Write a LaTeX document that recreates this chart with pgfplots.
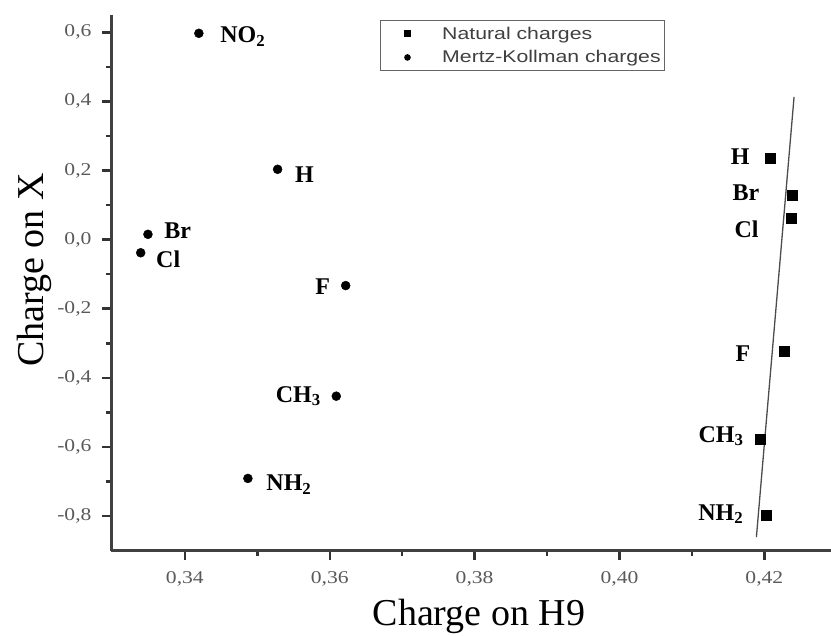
\documentclass[border=0pt]{standalone}
\usepackage{pgfplots}
\pgfplotsset{compat=1.18}
\usepackage{fontspec}
\setmainfont{Liberation Serif}
\newfontfamily\legfont[FakeStretch=1.25]{Liberation Sans}
\newfontfamily\tickfont[FakeStretch=1.2]{Liberation Serif}

% label font for the substituent names
\newcommand{\lbl}{\bfseries\fontsize{24}{28}\selectfont}

\begin{document}
\begin{tikzpicture}[x=1pt,y=1pt]
\useasboundingbox (0,0) rectangle (831,636);
\begin{axis}[
  at={(111pt,85pt)}, anchor=south west,
  scale only axis, width=720pt, height=536pt,
  xmin=0.3298, xmax=0.4292, ymin=-0.901, ymax=0.650,
  axis x line=bottom, axis y line=left,
  every outer x axis line/.append style={-, line width=3pt, black!75},
  every outer y axis line/.append style={-, line width=3pt, black!75},
  xtick={0.34,0.36,0.38,0.40,0.42},
  ytick={-0.8,-0.6,-0.4,-0.2,0,0.2,0.4,0.6},
  minor x tick num=1, minor y tick num=1,
  tick align=outside, major tick length=9pt, minor tick length=5pt,
  every tick/.append style={line width=2.5pt, black!80},
  /pgf/number format/assume math mode=true,
  ticklabel style={font=\tickfont\fontsize{18}{20}\selectfont, text=black!65},
  xticklabel style={yshift=-8pt, /pgf/number format/.cd, fixed, fixed zerofill, precision=2, use comma},
  yticklabel style={xshift=-7pt, /pgf/number format/.cd, fixed, fixed zerofill, precision=1, use comma},
  clip=false,
  legend style={at={(0.3736,0.9907)}, anchor=north west, draw=black!60, line width=1.5pt,
    font=\legfont\fontsize{17}{19}\selectfont, text=black!75,
    inner xsep=2pt, inner ysep=4pt, row sep=6pt},
  legend cell align=left,
  legend image code/.code={\path (0pt,0pt) (56pt,0pt); \draw[#1] plot coordinates {(24pt,0pt)};},
]
\addlegendimage{only marks, mark=square*, mark size=3pt, black}
\addlegendentry{Natural charges}
\addlegendimage{only marks, mark=*, mark size=2.5pt, black}
\addlegendentry{Mertz-Kollman charges}

% Natural charges
\addplot[only marks, mark=square*, mark size=5pt, black, forget plot] coordinates {
  (0.4208, 0.237) (0.4238, 0.129) (0.4237, 0.0625)
  (0.4227,-0.322) (0.4194,-0.577) (0.4202,-0.797)};
% linear fit through natural charges
\addplot[black!70, line width=1.3pt, forget plot] coordinates {
  (0.4189,-0.861) (0.4241,0.413)};
% Mertz-Kollman charges
\addplot[only marks, mark=*, mark size=4.5pt, black, forget plot] coordinates {
  (0.34193,0.597) (0.3528,0.2035) (0.3349,0.0153) (0.3339,-0.038)
  (0.3622,-0.133) (0.3609,-0.453) (0.3487,-0.691)};

% labels, Mertz-Kollman
\node[anchor=base west, xshift=18pt, yshift=-9pt] at (axis cs:0.34193,0.597) {\lbl NO\textsubscript{2}};
\node[anchor=base west, xshift=14pt, yshift=-13pt] at (axis cs:0.3528,0.2035) {\lbl H};
\node[anchor=base west, xshift=13pt, yshift=-4pt] at (axis cs:0.3349,0.0153) {\lbl Br};
\node[anchor=base west, xshift=12pt, yshift=-15pt] at (axis cs:0.3339,-0.038) {\lbl Cl};
\node[anchor=base east, xshift=-12pt, yshift=-9pt] at (axis cs:0.3622,-0.133) {\lbl F};
\node[anchor=base east, xshift=-12pt, yshift=-6pt] at (axis cs:0.3609,-0.453) {\lbl CH\textsubscript{3}};
\node[anchor=base west, xshift=15pt, yshift=-12pt] at (axis cs:0.3487,-0.691) {\lbl NH\textsubscript{2}};
% labels, natural
\node[anchor=base east, xshift=-17pt, yshift=-7pt] at (axis cs:0.4208,0.237) {\lbl H};
\node[anchor=base east, xshift=-29pt, yshift=-5pt] at (axis cs:0.4238,0.129) {\lbl Br};
\node[anchor=base east, xshift=-29pt, yshift=-19pt] at (axis cs:0.4237,0.0625) {\lbl Cl};
\node[anchor=base east, xshift=-30pt, yshift=-11pt] at (axis cs:0.4227,-0.322) {\lbl F};
\node[anchor=base east, xshift=-13pt, yshift=-3pt] at (axis cs:0.4194,-0.577) {\lbl CH\textsubscript{3}};
\node[anchor=base east, xshift=-19pt, yshift=-5pt] at (axis cs:0.4202,-0.797) {\lbl NH\textsubscript{2}};
\end{axis}
\node[anchor=base, font=\fontsize{38}{40}\selectfont] at (479,10) {Charge on H9};
\node[anchor=base, rotate=90, font=\fontsize{38}{40}\selectfont] at (43,366) {Charge on X};
\end{tikzpicture}
\end{document}
